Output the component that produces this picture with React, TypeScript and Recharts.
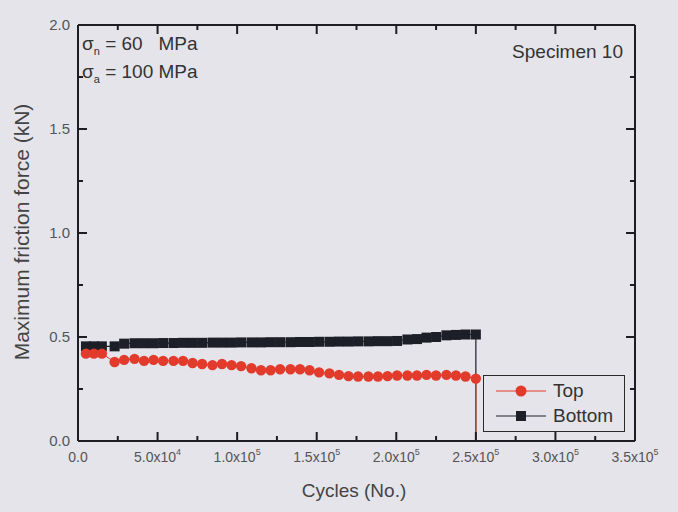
import { LineChart, Line, XAxis, YAxis } from 'recharts'

// cycles where both surfaces were measured
const earlyCycles = [5000, 10000, 15000]
const cycles = [
  23000, 29000, 35500, 41500, 47500, 53500, 60000, 66000, 72000, 78000,
  84500, 90500, 96500, 102500, 109000, 115000, 121000, 127000, 133500, 139500,
  145500, 151500, 158000, 164000, 170000, 176000, 182500, 188500, 194500, 200500,
  207000, 213000, 219000, 225000, 231500, 237500, 243500, 250000,
]
const failureCycle = 250000

const topEarly = [0.42, 0.42, 0.42]
const topForce = [
  0.38, 0.39, 0.395, 0.385, 0.39, 0.385, 0.385, 0.385, 0.375, 0.37,
  0.365, 0.37, 0.365, 0.36, 0.35, 0.34, 0.34, 0.345, 0.345, 0.345,
  0.34, 0.33, 0.325, 0.318, 0.312, 0.31, 0.31, 0.31, 0.312, 0.315,
  0.315, 0.315, 0.318, 0.315, 0.318, 0.315, 0.31, 0.3,
]

const bottomEarly = [0.455, 0.455, 0.455]
const bottomForce = [
  0.455, 0.468, 0.47, 0.47, 0.47, 0.471, 0.471, 0.472, 0.472, 0.472,
  0.473, 0.473, 0.473, 0.474, 0.474, 0.474, 0.475, 0.475, 0.475, 0.476,
  0.476, 0.477, 0.477, 0.478, 0.478, 0.479, 0.479, 0.48, 0.48, 0.481,
  0.488, 0.49, 0.497, 0.5, 0.508, 0.51, 0.512, 0.512,
]

const xTicks = [0, 25000, 50000, 75000, 100000, 125000, 150000, 175000, 200000, 225000, 250000, 275000, 300000, 325000, 350000]
const xMajor = [0, 50000, 100000, 150000, 200000, 250000, 300000, 350000]
const yTicks = [0, 0.25, 0.5, 0.75, 1, 1.25, 1.5, 1.75, 2]
const yMajor = [0, 0.5, 1, 1.5, 2]

const FONT = '"Liberation Sans", Arial, sans-serif'
const AXIS = '#1e1e22'
const RED = '#e33b2b'
const DARK = '#1d1f28'

const toPoints = (early: number[], vals: number[]) => [
  ...earlyCycles.map((c, i) => ({ x: c, y: early[i] })),
  ...cycles.map((c, i) => ({ x: c, y: vals[i] })),
  { x: failureCycle, y: 0, end: true },
]

const topData = toPoints(topEarly, topForce)
const bottomData = toPoints(bottomEarly, bottomForce)

function sci(v: number) {
  if (v === 0) return { m: '0.0', e: '' }
  const e = Math.floor(Math.log10(v))
  return { m: (v / Math.pow(10, e)).toFixed(1) + 'x10', e: String(e) }
}

const BottomTick = (props: any) => {
  const { x, y, payload } = props
  const major = xMajor.includes(payload.value)
  const { m, e } = sci(payload.value)
  return (
    <g>
      <line x1={x} y1={y} x2={x} y2={y - (major ? 9 : 5)} stroke={AXIS} strokeWidth={2} />
      {major && (
        <text x={x} y={y + 21} textAnchor="middle" fontFamily={FONT} fontSize={14} fill="#555">
          {m}
          {e && <tspan dy={-7} fontSize={9}>{e}</tspan>}
        </text>
      )}
    </g>
  )
}

const TopTick = (props: any) => {
  const { x, y, payload } = props
  const major = xMajor.includes(payload.value)
  return (
    <g>
      <line x1={x} y1={y} x2={x} y2={y + (major ? 9 : 5)} stroke={AXIS} strokeWidth={2} />
    </g>
  )
}

const LeftTick = (props: any) => {
  const { x, y, payload } = props
  const major = yMajor.includes(payload.value)
  return (
    <g>
      <line x1={x} y1={y} x2={x + (major ? 9 : 5)} y2={y} stroke={AXIS} strokeWidth={2} />
      {major && (
        <text x={x - 8} y={y + 5} textAnchor="end" fontFamily={FONT} fontSize={15} fill="#555">
          {payload.value.toFixed(1)}
        </text>
      )}
    </g>
  )
}

const RightTick = (props: any) => {
  const { x, y, payload } = props
  const major = yMajor.includes(payload.value)
  return (
    <g>
      <line x1={x} y1={y} x2={x - (major ? 9 : 5)} y2={y} stroke={AXIS} strokeWidth={2} />
    </g>
  )
}

const CircleDot = (props: any) => {
  const { cx, cy, payload, index } = props
  if (payload.end) return <g key={'c' + index} />
  return <circle key={'c' + index} cx={cx} cy={cy} r={5.2} fill={RED} />
}

const SquareDot = (props: any) => {
  const { cx, cy, payload, index } = props
  if (payload.end) return <g key={'s' + index} />
  return <rect key={'s' + index} x={cx - 5} y={cy - 5} width={10} height={10} fill={DARK} />
}

const axisLine = { stroke: AXIS, strokeWidth: 2 }

export default function App() {
  return (
    <div style={{ position: 'absolute', left: 0, top: 0, width: 678, height: 512, background: '#e4e4ea', fontFamily: FONT, color: '#333' }}>
      <LineChart width={678} height={512} margin={{ top: 24, right: 42, bottom: 41, left: 18 }}>
        <XAxis
          xAxisId="b" type="number" dataKey="x" domain={[0, 350000]} ticks={xTicks}
          height={30} tickSize={0} tickMargin={0}
          tick={<BottomTick />} tickLine={false} axisLine={axisLine} interval={0}
        />
        <XAxis
          xAxisId="t" orientation="top" type="number" dataKey="x" domain={[0, 350000]} ticks={xTicks}
          height={1} tickSize={0} tickMargin={0}
          tick={<TopTick />} tickLine={false} axisLine={axisLine} interval={0}
        />
        <YAxis
          yAxisId="l" type="number" domain={[0, 2]} ticks={yTicks}
          width={60} tickSize={0} tickMargin={0} tick={<LeftTick />} tickLine={false}
          axisLine={axisLine} interval={0}
        />
        <YAxis
          yAxisId="r" orientation="right" type="number" domain={[0, 2]} ticks={yTicks}
          width={1} tickSize={0} tickMargin={0} tick={<RightTick />} tickLine={false}
          axisLine={axisLine} interval={0}
        />
        {/* invisible series so the mirrored frame axes get their ticks */}
        <Line
          xAxisId="t" yAxisId="r" data={bottomData} dataKey="y" type="linear"
          stroke="none" dot={false} activeDot={false} isAnimationActive={false}
        />
        <Line
          xAxisId="b" yAxisId="l" data={bottomData} dataKey="y" type="linear"
          stroke={DARK} strokeWidth={1.2} dot={<SquareDot />} activeDot={false} isAnimationActive={false}
        />
        <Line
          xAxisId="b" yAxisId="l" data={topData} dataKey="y" type="linear"
          stroke={RED} strokeWidth={1} dot={<CircleDot />} activeDot={false} isAnimationActive={false}
        />
      </LineChart>

      <div style={{ position: 'absolute', left: 82, top: 33, fontSize: 19, whiteSpace: 'pre', lineHeight: '22px' }}>
        σ<sub style={{ fontSize: 11, verticalAlign: -5 }}>n</sub> = 60   MPa
      </div>
      <div style={{ position: 'absolute', left: 82, top: 61, fontSize: 19, whiteSpace: 'pre', lineHeight: '22px' }}>
        σ<sub style={{ fontSize: 11, verticalAlign: -5 }}>a</sub> = 100 MPa
      </div>
      <div style={{ position: 'absolute', right: 55, top: 41, fontSize: 19, lineHeight: '22px' }}>Specimen 10</div>

      <div style={{ position: 'absolute', left: 483, top: 375, width: 140, height: 55, border: '1.5px solid #2a2a2a' }}>
        <svg width={70} height={55} style={{ position: 'absolute', left: 0, top: 0 }}>
          <line x1={12} y1={15} x2={62} y2={15} stroke={RED} strokeWidth={1.2} />
          <circle cx={37} cy={15} r={5.5} fill={RED} />
          <line x1={12} y1={40} x2={62} y2={40} stroke={DARK} strokeWidth={1.2} />
          <rect x={32} y={35} width={10} height={10} fill={DARK} />
        </svg>
        <div style={{ position: 'absolute', left: 69, top: 4, fontSize: 19, lineHeight: '22px' }}>Top</div>
        <div style={{ position: 'absolute', left: 69, top: 29, fontSize: 19, lineHeight: '22px' }}>Bottom</div>
      </div>

      <div style={{ position: 'absolute', left: 254, top: 480, width: 200, textAlign: 'center', fontSize: 19, color: '#444' }}>
        Cycles (No.)
      </div>
      <div style={{ position: 'absolute', left: 23 - 170, top: 232 - 13, width: 340, height: 26, textAlign: 'center', fontSize: 21, color: '#444', transform: 'rotate(-90deg)' }}>
        Maximum friction force (kN)
      </div>
    </div>
  )
}
